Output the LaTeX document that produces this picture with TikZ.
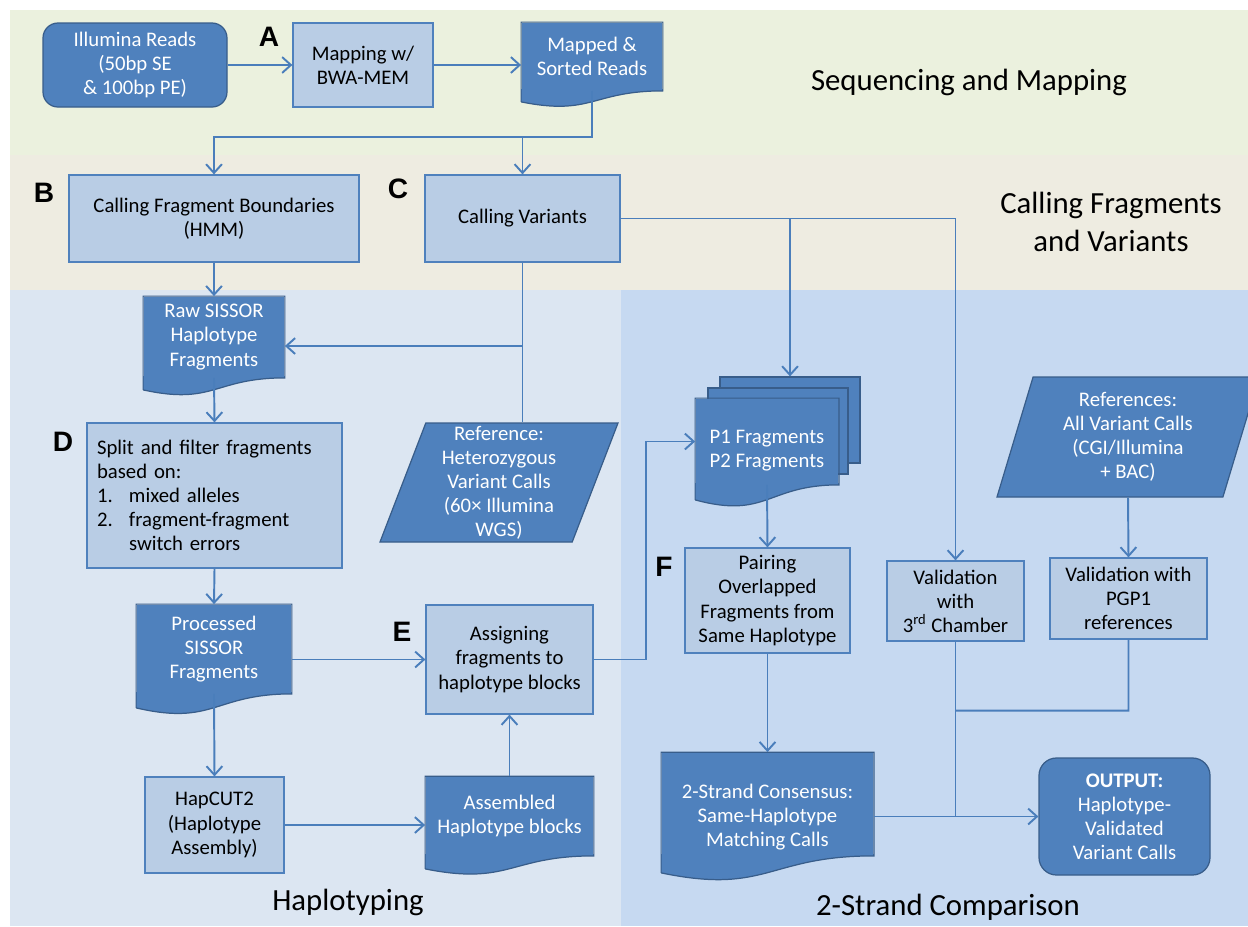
\documentclass[tikz,border=0pt]{standalone}
\usepackage{fontspec}
\setmainfont{Carlito}
\newfontfamily\lblfont{Liberation Sans}
\usetikzlibrary{shapes.geometric}
\usetikzlibrary{arrows.meta}
\definecolor{darkfill}{HTML}{4F81BD}
\definecolor{darkline}{HTML}{385D8A}
\definecolor{lightfill}{HTML}{B9CDE5}
\definecolor{linkblue}{HTML}{4A7EBB}
\definecolor{seqbg}{HTML}{EBF1DE}
\definecolor{callbg}{HTML}{EEECE1}
\definecolor{hapbg}{HTML}{DCE6F2}
\definecolor{cmpbg}{HTML}{C6D9F1}
% wavy bottom of a document node
\newcommand{\docwave}[2]{%
  \fill[darkfill] ([yshift=1pt]#1.south east) -- (#1.south east) .. controls (#1.south) and ([yshift=-2.3*#2]#1.south) .. ([yshift=-#2]#1.south west) -- ([yshift=1pt]#1.south west) -- cycle;
  \draw[darkline, line width=0.7pt] ([yshift=-#2]#1.south west) -- (#1.north west) -- (#1.north east) -- (#1.south east) .. controls (#1.south) and ([yshift=-2.3*#2]#1.south) .. ([yshift=-#2]#1.south west);
}

\begin{document}
\begin{tikzpicture}[>={Straight Barb[length=5pt,width=9pt]}, line width=1pt,
    every node/.style={font=\fontsize{11.8}{13.7}\selectfont},
    darkbox/.style={fill=darkfill, draw=darkline, line width=0.7pt, text=white, align=center, inner sep=2pt},
    lightbox/.style={fill=lightfill, draw=darkfill, line width=0.7pt, align=center, inner sep=2pt},
    docbox/.style={fill=darkfill, text=white, align=center, inner sep=2pt},
    slantbox/.style={darkbox, trapezium, trapezium left angle=68, trapezium right angle=112, trapezium stretches body},
    steplbl/.style={font=\lblfont\bfseries\fontsize{16}{18}\selectfont},
    stagelbl/.style={font=\fontsize{17.5}{21.5}\selectfont, align=center},
    link/.style={->, draw=linkblue, line width=1.1pt},
    joint/.style={draw=linkblue, line width=1.1pt}]
  \useasboundingbox (0,0) rectangle (24.96,-18.52);

  % stage bands
  \fill[seqbg] (0.2,-0.2) rectangle (24.96,-3.1);
  \fill[callbg] (0.2,-3.1) rectangle (24.96,-5.8);
  \fill[hapbg] (0.2,-5.8) rectangle (12.42,-18.52);
  \fill[cmpbg] (12.42,-5.8) rectangle (24.96,-18.52);

  \node[stagelbl] (seqlbl) at (19.38,-1.64) {Sequencing and Mapping};
  \node[stagelbl] (calllbl) at (22.22,-4.44) {Calling Fragments\\and Variants};
  \node[stagelbl] (haplbl) at (6.96,-18.04) {Haplotyping};
  \node[stagelbl] (cmplbl) at (18.96,-18.14) {2-Strand Comparison};

  % step letters
  \node[steplbl] (stepA) at (5.38,-0.74) {A};
  \node[steplbl] (stepB) at (0.88,-3.86) {B};
  \node[steplbl] (stepC) at (7.96,-3.78) {C};
  \node[steplbl] (stepD) at (1.26,-8.84) {D};
  \node[steplbl] (stepE) at (8.04,-12.64) {E};
  \node[steplbl] (stepF) at (13.28,-11.34) {F};

  % sequencing and mapping
  \node[darkbox, rounded corners=0.3cm, minimum width=3.68cm, minimum height=1.68cm] (illumina) at (2.70,-1.30) {Illumina Reads\\(50bp SE\\\& 100bp PE)};
  \node[lightbox, minimum width=2.80cm, minimum height=1.68cm] (mapping) at (7.26,-1.30) {Mapping w/\\BWA-MEM};
  \node[docbox, minimum width=2.80cm, minimum height=1.34cm] (mapped) at (11.84,-1.13) {Mapped \&\\Sorted Reads};
  \docwave{mapped}{0.22cm}

  % calling fragments and variants
  \node[lightbox, minimum width=5.80cm, minimum height=1.74cm] (fragbound) at (4.28,-4.37) {Calling Fragment Boundaries\\(HMM)};
  \node[lightbox, minimum width=3.90cm, minimum height=1.74cm] (callvar) at (10.45,-4.37) {Calling Variants};

  % haplotyping
  \node[docbox, minimum width=2.80cm, minimum height=1.60cm] (rawfrag) at (4.28,-6.74) {Raw SISSOR\\Haplotype\\Fragments};
  \docwave{rawfrag}{0.24cm}
  \node[lightbox, align=left, text width=4.70cm, inner xsep=0.2cm, minimum height=2.90cm] (split) at (4.29,-9.91)
    {Split and filter fragments\\based on:\\\makebox[0.64cm][l]{1.}mixed alleles\\\makebox[0.64cm][l]{2.}fragment-fragment\\\hspace*{0.64cm}switch errors};
  \node[slantbox, minimum width=4.76cm, minimum height=2.38cm, inner sep=0pt] (ref) at (9.98,-9.65)
    {Reference:\\Heterozygous\\Variant Calls\\(60× Illumina\\WGS)};
  \node[docbox, minimum width=3.08cm, minimum height=1.76cm] (processed) at (4.28,-12.98) {Processed\\SISSOR\\Fragments};
  \docwave{processed}{0.28cm}
  \node[lightbox, minimum width=3.34cm, minimum height=2.18cm] (assign) at (10.19,-13.19) {Assigning\\fragments to\\haplotype blocks};
  \node[lightbox, minimum width=2.78cm, minimum height=1.92cm] (hapcut) at (4.29,-16.50) {HapCUT2\\(Haplotype\\Assembly)};
  \node[docbox, minimum width=3.34cm, minimum height=1.56cm] (assembled) at (10.19,-16.32) {Assembled\\Haplotype blocks};
  \docwave{assembled}{0.26cm}

  % 2-strand comparison
  \node[darkbox, minimum width=2.80cm, minimum height=1.72cm] (pback) at (15.80,-8.40) {};
  \node[darkbox, minimum width=2.80cm, minimum height=1.72cm] (pmid) at (15.56,-8.62) {};
  \node[docbox, minimum width=2.84cm, minimum height=1.70cm] (pfrag) at (15.34,-8.83) {\rule{0pt}{0.64cm}P1 Fragments\\P2 Fragments};
  \docwave{pfrag}{0.30cm}
  \node[lightbox, minimum width=3.30cm, minimum height=2.10cm] (pairing) at (15.35,-12.01) {Pairing\\Overlapped\\Fragments from\\Same Haplotype};
  \node[slantbox, minimum width=5.24cm, minimum height=2.40cm, inner sep=0pt] (refs) at (22.56,-8.74)
    {References:\\All Variant Calls\\(CGI/Illumina\\+ BAC)};
  \node[lightbox, minimum width=2.74cm, minimum height=1.60cm] (val3) at (19.11,-12.02) {Validation\\with\\3\textsuperscript{rd} Chamber};
  \node[lightbox, minimum width=3.14cm, minimum height=1.62cm] (pgp) at (22.57,-11.97) {Validation with\\PGP1\\references};
  \node[docbox, minimum width=4.22cm, minimum height=2.04cm] (consensus) at (15.35,-16.08) {\rule{0pt}{0.80cm}2-Strand Consensus:\\Same-Haplotype\\Matching Calls};
  \docwave{consensus}{0.34cm}
  \node[darkbox, rounded corners=0.35cm, minimum width=3.42cm, minimum height=2.34cm] (output) at (22.49,-16.33) {\textbf{OUTPUT:}\\Haplotype-\\Validated\\Variant Calls};

  % connectors
  \draw[link] (illumina) -- (mapping);
  \draw[link] (mapping) -- (mapping -| mapped.west);
  \draw[link] (mapped.south) |- ([yshift=0.74cm]fragbound.north) -- (fragbound.north);
  \draw[link] ([yshift=0.74cm]callvar.north) -- (callvar.north);
  \draw[link] (fragbound.south) -- (rawfrag.north);
  \draw[joint] (callvar.south) -- (callvar.south |- ref.north);
  \coordinate (rawin) at ([yshift=-0.18cm]rawfrag.east);
  \draw[link] (callvar.south |- rawin) -- (rawin);
  \draw[link] (callvar.east) -| (val3.north);
  \draw[link] (callvar.east -| pback.north) -- (pback.north);
  \draw[link] (rawfrag.south) -- (split.north);
  \draw[link] (split.south) -- (processed.north);
  \draw[link] (processed.east |- assign.west) -- (assign.west);
  \draw[link] (processed.south) -- (hapcut.north);
  \draw[link] (hapcut.east) -- (hapcut.east -| assembled.west);
  \draw[link] (assembled.north) -- (assign.south);
  \draw[link] (assign.east) -- ++(1.04,0) |- (pfrag.west);
  \draw[link] (pfrag.south) -- (pairing.north);
  \draw[link] (pairing.south) -- (consensus.north);
  \draw[link] (refs.south) -- (pgp.north);
  \draw[joint] (val3.south) -- (val3.south |- output.west);
  \draw[joint] (pgp.south) -- ++(0,-1.42) -- ([yshift=-1.38cm]val3.south);
  \draw[link] (consensus.east |- output.west) -- (output.west);
\end{tikzpicture}
\end{document}
